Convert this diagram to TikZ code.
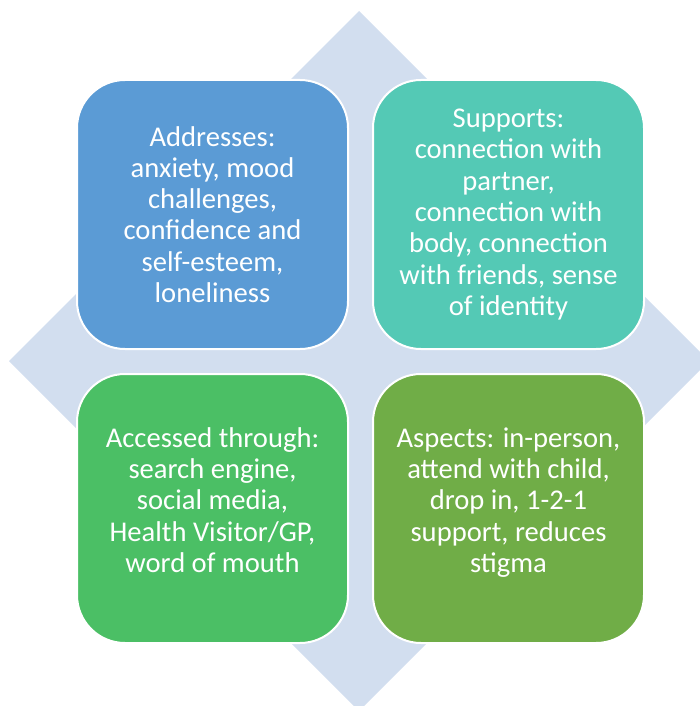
\documentclass[tikz,border=0pt]{standalone}
\usepackage{fontspec}
\setmainfont{Carlito}
\usepackage{xcolor}
\usepackage{tikz}
\usetikzlibrary{positioning}

\definecolor{diamondblue}{HTML}{D2DEEF}
\definecolor{boxblue}{HTML}{5B9BD5}
\definecolor{boxteal}{HTML}{54C9B5}
\definecolor{boxgreen}{HTML}{4BBF65}
\definecolor{boxolive}{HTML}{70AD47}

\begin{document}
\begin{tikzpicture}[
  x=1pt, y=1pt,
  node distance=23pt and 23pt,
  quad/.style={draw=white, line width=2pt, rounded corners=48pt, minimum width=271pt, minimum height=269pt, align=center, text=white, inner sep=0pt, font=\fontsize{28.6}{31.3}\selectfont},
  lowquad/.style={quad, text depth=17pt}
]
\useasboundingbox (0,0) rectangle (699,-706);
% background diamond
\fill[diamondblue] (359,-11) -- (709,-361) -- (359,-711) -- (9,-361) -- cycle;

\node[quad, fill=boxblue, anchor=north west] (addresses) at (76,-79)
  {Addresses:\\anxiety, mood\\challenges,\\confidence and\\self-esteem,\\loneliness};
\node[quad, fill=boxteal, right=of addresses] (supports)
  {Supports:\\connection with\\partner,\\connection with\\body, connection\\with friends, sense\\of identity};
\node[lowquad, fill=boxgreen, below=of addresses] (accessed)
  {Accessed through:\\search engine,\\social media,\\Health Visitor/GP,\\word of mouth};
\node[lowquad, fill=boxolive, below=of supports] (aspects)
  {Aspects: in-person,\\attend with child,\\drop in, 1-2-1\\support, reduces\\stigma};
\end{tikzpicture}
\end{document}
